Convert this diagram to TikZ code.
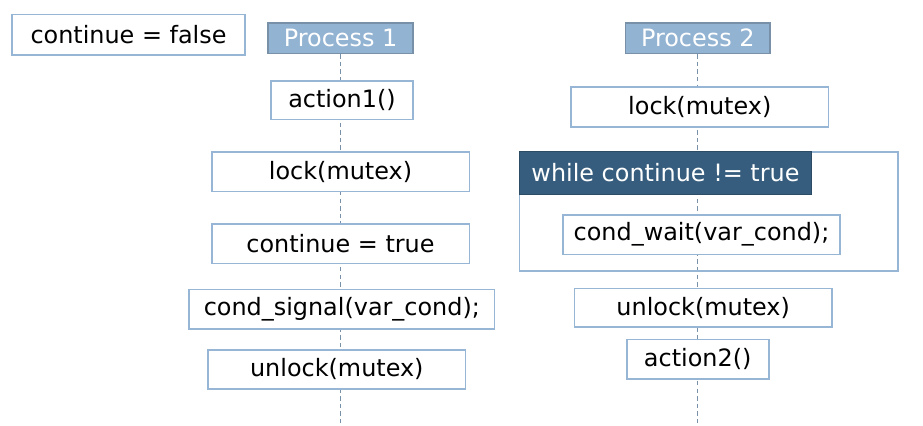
\documentclass[tikz,border=0pt]{standalone}
\usepackage{fontspec}
\setmainfont{DejaVu Sans}
\usetikzlibrary{backgrounds}
\definecolor{boxline}{HTML}{97B6D5}
\definecolor{procfill}{HTML}{93B3D2}
\definecolor{procline}{HTML}{7890A8}
\definecolor{headfill}{HTML}{365D7D}
\definecolor{headline}{HTML}{2C4C66}
\definecolor{lifecol}{HTML}{7890A8}
\tikzset{
  stepbox/.style={draw=boxline, line width=0.8pt, fill=white, inner sep=0pt, align=center, text=black},
  procbox/.style={draw=procline, line width=0.8pt, fill=procfill, inner sep=0pt, text=white},
  headbox/.style={draw=headline, line width=0.6pt, fill=headfill, inner sep=0pt, text=white},
  framebox/.style={draw=boxline, line width=0.8pt},
  lifeline/.style={draw=lifecol, line width=0.65pt, dash pattern=on 2.2pt off 1.6pt},
}
\begin{document}
\begin{tikzpicture}[x=0.5pt,y=-0.5pt,font=\fontsize{11.95}{14}\selectfont]
\useasboundingbox (0,0) rectangle (923,425);
% global
\node[stepbox, minimum width=116.5pt, minimum height=20.2pt] (cf) at (128.5,34.8) {continue = false};
% process 1
\node[procbox, minimum width=72.5pt, minimum height=15.3pt] (p1) at (340.6,38) {Process 1};
\node[stepbox, minimum width=71pt, minimum height=19.3pt] (a1) at (342,100) {action1()};
\node[stepbox, minimum width=128.8pt, minimum height=19.8pt] (l1) at (340.5,171.5) {lock(mutex)};
\node[stepbox, minimum width=128.8pt, minimum height=19.8pt] (ct) at (340.5,243.8) {continue = true};
\node[stepbox, minimum width=152.8pt, minimum height=19.8pt] (sg) at (341.8,309.2) {cond\_signal(var\_cond);};
\node[stepbox, minimum width=128.8pt, minimum height=19.4pt] (u1) at (336.8,369.3) {unlock(mutex)};
\coordinate (e1) at (340.6,423);
% process 2
\node[procbox, minimum width=72.2pt, minimum height=15.3pt] (p2) at (697.8,38) {Process 2};
\node[stepbox, minimum width=128.8pt, minimum height=20pt] (l2) at (699.8,106.7) {lock(mutex)};
\node[framebox, minimum width=189.2pt, minimum height=59.5pt, inner sep=0pt] (lp) at (708.5,211.2) {};
\node[headbox, minimum width=146.2pt, minimum height=21.3pt] (hd) at (665.5,173) {while continue != true};
\node[stepbox, minimum width=138.5pt, minimum height=19.8pt] (cw) at (701.5,234.5) {cond\_wait(var\_cond);};
\node[stepbox, minimum width=128.8pt, minimum height=19.2pt] (u2) at (703.2,307.8) {unlock(mutex)};
\node[stepbox, minimum width=71pt, minimum height=19.7pt] (a2) at (697.7,359) {action2()};
\coordinate (e2) at (697.8,423);
\begin{scope}[on background layer]
  \draw[lifeline] (p1.south) -- (e1);
  \draw[lifeline] (p2.south) -- (e2);
\end{scope}
\end{tikzpicture}
\end{document}
